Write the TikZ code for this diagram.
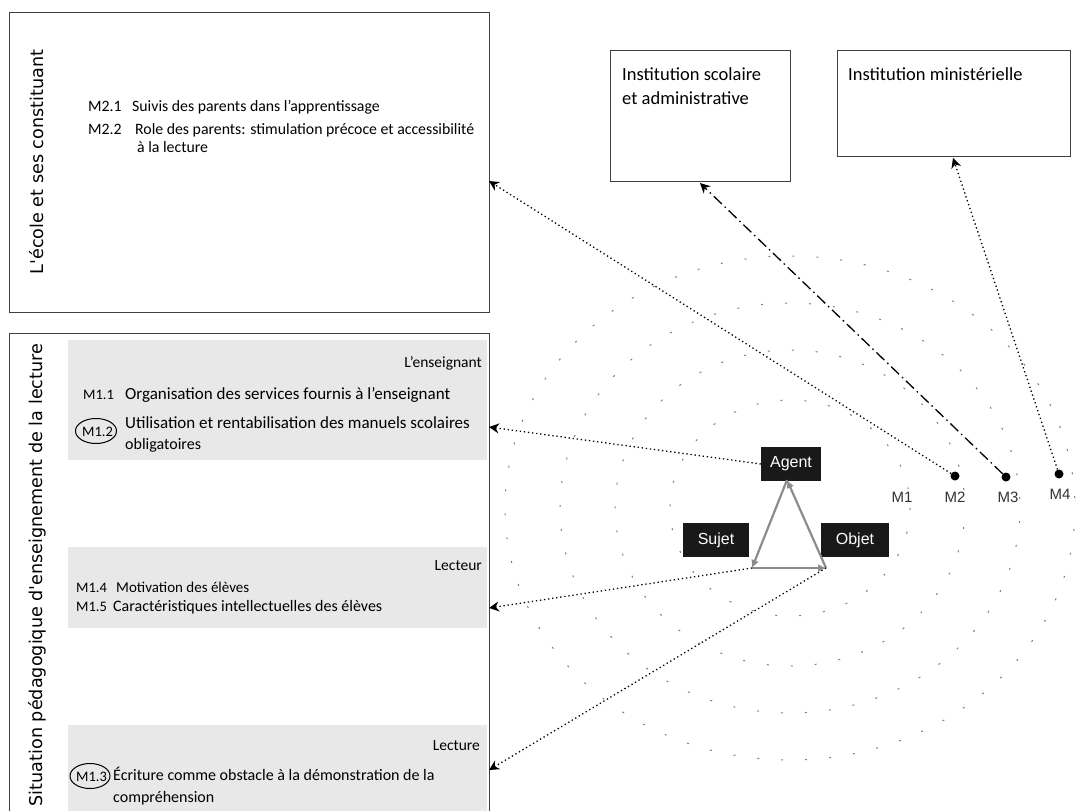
\documentclass[tikz,border=0pt]{standalone}
\usepackage{fontspec}
\setmainfont{Carlito}
\newfontfamily\arialf{Liberation Sans}
\newfontfamily\verdf{DejaVu Sans}
\usetikzlibrary{arrows.meta,shapes.geometric}
\begin{document}
\begin{tikzpicture}[x=1pt,y=-1pt,
  frame/.style={draw=black!75,line width=1pt},
  panel/.style={fill=black!9,draw=none},
  txt/.style={anchor=base west,inner sep=0pt,font=\fontsize{16}{18}\selectfont},
  mtxt/.style={anchor=base west,inner sep=0pt,font=\fontsize{14.5}{16}\selectfont},
  ttxt/.style={anchor=base west,inner sep=0pt,font=\fontsize{15.8}{18}\selectfont},
  rtxt/.style={anchor=base east,inner sep=0pt,font=\fontsize{15.5}{17}\selectfont},
  itxt/.style={anchor=base west,inner sep=0pt,font=\fontsize{18.5}{22}\selectfont},
  vlab/.style={rotate=90,inner sep=0pt,font=\verdf\fontsize{17.6}{19}\selectfont},
  blk/.style={fill=black!90,text=white,font=\arialf\fontsize{16}{17}\selectfont,inner sep=0pt,minimum height=34pt},
  mlab/.style={font=\arialf\fontsize{15}{16}\selectfont,inner sep=0pt,text=black!80},
  dotn/.style={circle,fill=black,inner sep=0pt,minimum size=9pt},
  ring/.style={draw=black!50,line width=1pt,dash pattern=on 2pt off 22pt},
  dotarr/.style={line width=1.3pt,dash pattern=on 1.3pt off 2.8pt,-{Stealth[length=10pt,width=10pt]}},
  ddarr/.style={line width=1.3pt,dash pattern=on 11pt off 4pt on 1.5pt off 4pt,-{Stealth[length=10pt,width=10pt]}},
  tri/.style={draw=black!45,line width=2.2pt,-{Latex[length=8pt,width=8pt]}},
  oval/.style={draw=black,line width=1pt,ellipse,inner sep=0pt}
]
\useasboundingbox (0,0) rectangle (1078,811);
\fill[white] (0,0) rectangle (1078,811);

% concentric rings
\foreach \a/\b/\c in {120/108/0,175/158/5,230/205/11,285/252/3}
  \draw[ring,dash phase=\c pt] (790,508) ellipse [x radius=\a, y radius=\b];

% top-left box
\node[frame,minimum width=480pt,minimum height=300pt,anchor=north west,inner sep=0pt] (ecole) at (9,12) {};
\node[vlab] (ecolelab) at (37,162) {L'école et ses constituant};
\node[ttxt] (m21) at (88,111) {M2.1};
\node[ttxt] (m21t) at (132,111) {Suivis des parents dans l'apprentissage};
\node[ttxt] (m22) at (88,134) {M2.2};
\node[ttxt] (m22t) at (135,134) {Role des parents: stimulation précoce et accessibilité};
\node[ttxt] (m22u) at (137,152) {à la lecture};

% bottom-left box
\draw[frame] (9,811) -- (9,333) -- (489,333) -- (489,811);
\node[vlab] (sitlab) at (37,575) {Situation pédagogique d'enseignement de la lecture};
\fill[panel] (68,340) rectangle (487,460);
\fill[panel] (68,547) rectangle (487,628);
\fill[panel] (68,725) rectangle (487,811);

\node[rtxt] (ens) at (482,367) {L'enseignant};
\node[mtxt] (m11) at (83,399) {M1.1};
\node[txt,font=\fontsize{17}{18}\selectfont] (m11t) at (125,399) {Organisation des services fournis à l'enseignant};
\node[mtxt] (m12) at (82,436) {M1.2};
\node[oval,minimum width=41pt,minimum height=25pt] (m12c) at (96,431) {};
\node[txt,font=\fontsize{17}{18}\selectfont] (m12t) at (125,428) {Utilisation et rentabilisation des manuels scolaires};
\node[txt] (m12u) at (125,449) {obligatoires};

\node[rtxt] (lecteur) at (482,570) {Lecteur};
\node[mtxt] (m14) at (76,592) {M1.4};
\node[txt,font=\fontsize{15}{17}\selectfont] (m14t) at (116,592) {Motivation des élèves};
\node[mtxt] (m15) at (76,611) {M1.5};
\node[txt] (m15t) at (113,611) {Caractéristiques intellectuelles des élèves};

\node[rtxt] (lecture) at (480,750) {Lecture};
\node[mtxt] (m13) at (76,781) {M1.3};
\node[oval,minimum width=40pt,minimum height=25pt] (m13c) at (90,776) {};
\node[txt] (m13t) at (113,780) {Écriture comme obstacle à la démonstration de la};
\node[txt] (m13u) at (113,802) {compréhension};

% institution boxes
\node[frame,minimum width=180pt,minimum height=131pt,anchor=north west,inner sep=0pt] (instsc) at (610,50) {};
\node[itxt] (instsct) at (622,80) {Institution scolaire};
\node[itxt] (instsct2) at (622,104) {et administrative};
\node[frame,minimum width=233pt,minimum height=106pt,anchor=north west,inner sep=0pt] (instmin) at (837,50) {};
\node[itxt] (instmint) at (848,80) {Institution ministérielle};

% triangle
\node[blk,minimum width=60pt] (agent) at (791,464) {Agent};
\node[blk,minimum width=66pt] (sujet) at (716,540) {Sujet};
\node[blk,minimum width=68pt] (objet) at (855,540) {Objet};
\coordinate (tA) at (787,480);
\coordinate (tS) at (752,568);
\coordinate (tO) at (826,568);
\draw[tri] (tO) -- (tA);
\draw[tri] (tA) -- (tS);
\draw[tri] (tS) -- (tO);

% M markers
\node[dotn] (d2) at (955,476) {};
\node[dotn] (d3) at (1006,477) {};
\node[dotn] (d4) at (1059,474) {};
\node[mlab] (l1) at (902,497) {M1};
\node[mlab] (l2) at (955,497) {M2};
\node[mlab] (l3) at (1008,497) {M3};
\node[mlab] (l4) at (1060,494) {M4};

% arrow targets
\coordinate (eA) at (489,181);
\coordinate (sA) at (700,183);
\coordinate (mA) at (953,158);
\coordinate (p1) at (489,427);
\coordinate (p2) at (489,608);
\coordinate (p3) at (489,770);

\draw[dotarr] (d2) -- (eA);
\draw[ddarr] (d3) -- (sA);
\draw[dotarr] (d4) -- (mA);
\draw[dotarr] (agent.west) -- (p1);
\draw[dotarr] (tS) -- (p2);
\draw[dotarr] (tO) -- (p3);
\end{tikzpicture}
\end{document}
